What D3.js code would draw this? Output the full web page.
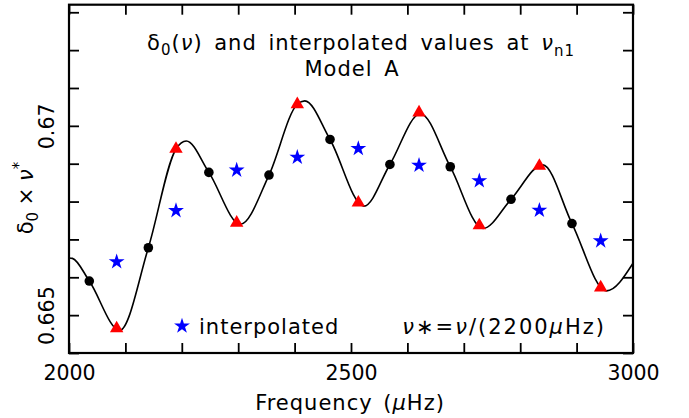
<!DOCTYPE html>
<html>
<head>
<meta charset="utf-8">
<script src="https://cdn.jsdelivr.net/npm/d3@7"></script>
<style>
  body { margin: 0; background: #fff; }
  svg { display: block; }
  text { font-family: "DejaVu Sans", sans-serif; fill: #000; }
</style>
</head>
<body>
<svg id="chart" width="689" height="418"></svg>
<script>
// ---- data ----
const triFreq   = [2084.5, 2189.7, 2297.3, 2404.8, 2513.0, 2620.6, 2727.5, 2834.0, 2942.7];
const triVal    = [0.66465, 0.66939, 0.66744, 0.67057, 0.66797, 0.67035, 0.66737, 0.66894, 0.66573];
const starVal   = [0.66641, 0.66776, 0.66883, 0.66917, 0.66940, 0.66896, 0.66855, 0.66777, 0.66696];
const dotFreq   = [2036, 2140.7, 2248, 2354.6, 2462.8, 2569, 2676, 2783.7, 2891.8];
const dotVal    = [0.66590, 0.66678, 0.66877, 0.66870, 0.66964, 0.66898, 0.66892, 0.66806, 0.66742];
const curveFreq = [2000, 2006, 2036, 2090, 2140.7, 2189.7, 2208, 2248, 2304, 2354.6, 2404.8, 2418, 2462.8, 2523, 2569, 2623, 2676, 2734, 2783.7, 2840, 2891.8, 2953, 3000];
const curveVal  = [0.66651, 0.66650, 0.66590, 0.66460, 0.66678, 0.66939, 0.66960, 0.66877, 0.66740, 0.66870, 0.67057, 0.67066, 0.66964, 0.66788, 0.66898, 0.67032, 0.66892, 0.66729, 0.66806, 0.66897, 0.66742, 0.66564, 0.66637];
const xTicks = d3.range(2000, 3001, 100);
const xTickLabels = [2000, 2500, 3000];
const yTicks = d3.range(0.664, 0.67301, 0.001).map(v => +v.toFixed(3));
const yTickLabels = [0.665, 0.67];

// ---- layout ----
const svg = d3.select("#chart");
const L = 69, R = 633, T = 4.7, B = 353;
const x = d3.scaleLinear().domain([2000, 3000]).range([L, R]);
const y = d3.scaleLinear().domain([0.664, 0.6732]).range([B, T]);
const tick = 10;

// axes (ticks inside, on all four sides)
function styleAxis(g) {
  g.select(".domain").remove();
  g.selectAll(".tick line").attr("stroke", "#000").attr("stroke-width", 1.8);
}
svg.append("g").attr("transform", `translate(0,${B})`)
  .call(d3.axisBottom(x).tickValues(xTicks).tickSize(-tick).tickPadding(12)
    .tickFormat(d => xTickLabels.includes(d) ? String(d) : ""))
  .call(styleAxis)
  .call(g => g.selectAll("text").attr("font-size", 20.5).attr("font-family", "DejaVu Sans"));
svg.append("g").attr("transform", `translate(0,${T})`)
  .call(d3.axisTop(x).tickValues(xTicks).tickSize(-tick).tickFormat(""))
  .call(styleAxis);
svg.append("g").attr("transform", `translate(${R},0)`)
  .call(d3.axisRight(y).tickValues(yTicks).tickSize(-tick).tickFormat(""))
  .call(styleAxis);
const yAx = svg.append("g").attr("transform", `translate(${L},0)`)
  .call(d3.axisLeft(y).tickValues(yTicks).tickSize(-tick)
    .tickFormat(d => yTickLabels.some(v => Math.abs(v - d) < 1e-9) ? String(+d.toFixed(3)) : ""))
  .call(styleAxis);
yAx.selectAll(".tick text")
  .attr("font-size", 20.5).attr("font-family", "DejaVu Sans")
  .attr("x", null).attr("dy", null)
  .attr("text-anchor", "middle")
  .attr("transform", "translate(-15,0) rotate(-90)")
  .attr("dy", "0em");

// frame
svg.append("rect").attr("x", L).attr("y", T).attr("width", R - L).attr("height", B - T)
  .attr("fill", "none").attr("stroke", "#000").attr("stroke-width", 2.2);

// clip
svg.append("clipPath").attr("id", "clip").append("rect")
  .attr("x", L).attr("y", T).attr("width", R - L).attr("height", B - T);

// curve
const line = d3.line().x(d => x(d[0])).y(d => y(d[1])).curve(d3.curveMonotoneX);
svg.append("path").attr("clip-path", "url(#clip)")
  .datum(curveFreq.map((f, i) => [f, curveVal[i]]))
  .attr("d", line).attr("fill", "none").attr("stroke", "#000").attr("stroke-width", 1.6);

// black dots
svg.append("g").selectAll("circle").data(dotFreq.map((f, i) => [f, dotVal[i]])).join("circle")
  .attr("cx", d => x(d[0])).attr("cy", d => y(d[1])).attr("r", 4.8).attr("fill", "#000");

// red triangles
const triSym = d3.symbol().type(d3.symbolTriangle).size(78);
svg.append("g").selectAll("path").data(triFreq.map((f, i) => [f, triVal[i]])).join("path")
  .attr("d", triSym).attr("transform", d => `translate(${x(d[0])},${y(d[1])})`).attr("fill", "#ff0000");

// blue stars
const starSym = d3.symbol().type(d3.symbolStar).size(78);
svg.append("g").selectAll("path").data(triFreq.map((f, i) => [f, starVal[i]])).join("path")
  .attr("d", starSym).attr("transform", d => `translate(${x(d[0])},${y(d[1])})`).attr("fill", "#0000ff");

// title
const t1 = svg.append("text").attr("x", 361).attr("y", 50).attr("text-anchor", "middle")
  .attr("font-size", 21).attr("letter-spacing", 1).attr("word-spacing", 4);
t1.append("tspan").text("δ");
t1.append("tspan").attr("font-size", 15).attr("dy", 5).text("0");
t1.append("tspan").attr("dy", -5).text("(");
t1.append("tspan").attr("font-style", "italic").text("ν");
t1.append("tspan").text(") and interpolated values at ");
t1.append("tspan").attr("font-style", "italic").text("ν");
t1.append("tspan").attr("font-size", 15).attr("dy", 6).text("n1");
svg.append("text").attr("x", 352).attr("y", 76).attr("text-anchor", "middle")
  .attr("font-size", 21).attr("letter-spacing", 1).attr("word-spacing", 4).text("Model A");

// legend / notes
svg.append("path").attr("d", starSym).attr("transform", "translate(182,326)").attr("fill", "#0000ff");
svg.append("text").attr("x", 199).attr("y", 334).attr("font-size", 21).attr("letter-spacing", 1).text("interpolated");
const n = svg.append("text").attr("x", 606).attr("y", 334).attr("text-anchor", "end")
  .attr("font-size", 21).attr("letter-spacing", 2);
n.append("tspan").attr("font-style", "italic").text("ν");
n.append("tspan").text("∗=");
n.append("tspan").attr("font-style", "italic").text("ν");
n.append("tspan").text("/(2200");
n.append("tspan").attr("font-style", "italic").text("μ");
n.append("tspan").text("Hz)");

// axis titles
const xl = svg.append("text").attr("x", 350).attr("y", 410).attr("text-anchor", "middle")
  .attr("font-size", 21).attr("letter-spacing", 1).attr("word-spacing", 3);
xl.append("tspan").text("Frequency (");
xl.append("tspan").attr("font-style", "italic").text("μ");
xl.append("tspan").text("Hz)");

const yl = svg.append("text").attr("transform", "translate(33,198) rotate(-90)").attr("text-anchor", "middle")
  .attr("font-size", 21);
yl.append("tspan").text("δ");
yl.append("tspan").attr("font-size", 15).attr("dy", 5).text("0");
yl.append("tspan").attr("dy", -5).text(" × ");
yl.append("tspan").attr("font-style", "italic").text("ν");
yl.append("tspan").attr("font-size", 15).attr("dy", -9).text("*");
</script>
</body>
</html>
